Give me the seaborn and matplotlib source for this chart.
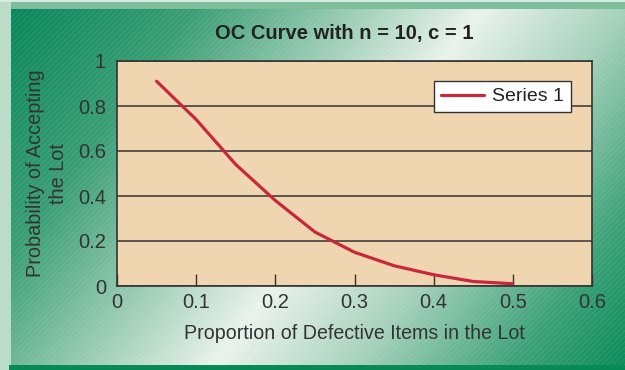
import numpy as np
import matplotlib
matplotlib.use("Agg")
import matplotlib.pyplot as plt
import seaborn as sns
from matplotlib.patches import Rectangle
from matplotlib.colors import LinearSegmentedColormap

# ---- data ----
proportion_defective = [0.05, 0.10, 0.15, 0.20, 0.25, 0.30, 0.35, 0.40, 0.45, 0.50]
prob_accept = [0.91, 0.74, 0.54, 0.38, 0.24, 0.15, 0.09, 0.05, 0.02, 0.01]
series_name = "Series 1"
x_ticks = [0, 0.1, 0.2, 0.3, 0.4, 0.5, 0.6]
x_tick_labels = ["0", "0.1", "0.2", "0.3", "0.4", "0.5", "0.6"]
y_ticks = [0, 0.2, 0.4, 0.6, 0.8, 1.0]
y_tick_labels = ["0", "0.2", "0.4", "0.6", "0.8", "1"]
title = "OC Curve with n = 10, c = 1"
x_label = "Proportion of Defective Items in the Lot"
y_label = "Probability of Accepting\nthe Lot"

sns.set_theme(style="white")
plt.rcParams['font.family'] = ['Liberation Sans', 'DejaVu Sans']

W, H = 625, 370
fig = plt.figure(figsize=(W / 100, H / 100), dpi=100)
fig.patch.set_facecolor("#0a8a5a")

# ---- background ----
bg = fig.add_axes([0, 0, 1, 1], zorder=-10)
bg.set_xlim(0, W)
bg.set_ylim(H, 0)
bg.axis("off")
yy, xx = np.mgrid[0:H, 0:W]
d = (xx * 0.80 + yy * 0.60) / 722.0
cmap = LinearSegmentedColormap.from_list(
    "g", [(0.0, "#05855a"), (0.22, "#3a9e75"), (0.42, "#a8d3be"),
          (0.54, "#eaf3ec"), (0.70, "#a5d1bc"), (0.87, "#3ea27a"), (1.0, "#0b8c5a")])
bg.imshow(d, cmap=cmap, extent=[0, W, H, 0], aspect="auto", interpolation="bilinear", vmin=0, vmax=1)
# hatching
matplotlib.rcParams['hatch.linewidth'] = 0.5
hatch = Rectangle((10, 10), W - 10, H - 14, facecolor="none", edgecolor=(1, 1, 1, 0.12),
                  hatch="//////", linewidth=0)
bg.add_patch(hatch)
# borders
bg.add_patch(Rectangle((0, 0), 11, H, facecolor="#bcdcca", edgecolor="none"))
bg.add_patch(Rectangle((11, 0), W - 11, 9, facecolor="#7dbd9c", edgecolor="none"))
bg.add_patch(Rectangle((0, 0), W, 2, facecolor="#d8ebe0", edgecolor="none"))
bg.add_patch(Rectangle((9, H - 5), W, 5, facecolor="#078a55", edgecolor="none"))

# ---- main axes ----
left, right, top, bottom = 117, 592, 61, 286
ax = fig.add_axes([left / W, 1 - bottom / H, (right - left) / W, (bottom - top) / H])
ax.set_facecolor("#efd5b0")

sns.lineplot(x=proportion_defective, y=prob_accept, ax=ax, color="#c8283c",
             linewidth=2.3, label=series_name)

ax.set_xlim(0, 0.6)
ax.set_ylim(0, 1)
ax.set_xticks(x_ticks)
ax.set_xticklabels(x_tick_labels)
ax.set_yticks(y_ticks)
ax.set_yticklabels(y_tick_labels)
ax.tick_params(axis="x", direction="in", length=9, width=1, color="#333333",
               labelsize=14.5, labelcolor="#333333", pad=5, bottom=True)
ax.tick_params(axis="y", length=0, labelsize=14.5, labelcolor="#333333", pad=8, left=False)
ax.yaxis.grid(True, color="#333333", linewidth=1.1)
ax.xaxis.grid(False)
ax.set_axisbelow(True)
for s in ax.spines.values():
    s.set_color("#333333")
    s.set_linewidth(1.2)
    s.set_visible(True)

ax.set_xlabel(x_label, fontsize=14.1, color="#333333", labelpad=9)
ax.set_ylabel(y_label, fontsize=14.3, color="#333333", labelpad=7, linespacing=1.3)
fig.text((left + right) / 2 / W - 0.016, 1 - 33 / H, title, ha="center", va="center",
         fontsize=14.5, fontweight="bold", color="#222222")

leg = ax.legend(loc="upper right", bbox_to_anchor=(0.956, 0.911), borderaxespad=0,
                frameon=True, fancybox=False, framealpha=1, edgecolor="#333333",
                fontsize=14, handlelength=2.2, borderpad=0.35, handletextpad=0.45)
leg.get_frame().set_linewidth(1.0)
for t in leg.get_texts():
    t.set_color("#222222")

fig.savefig("out.png", dpi=100, facecolor=fig.get_facecolor())
